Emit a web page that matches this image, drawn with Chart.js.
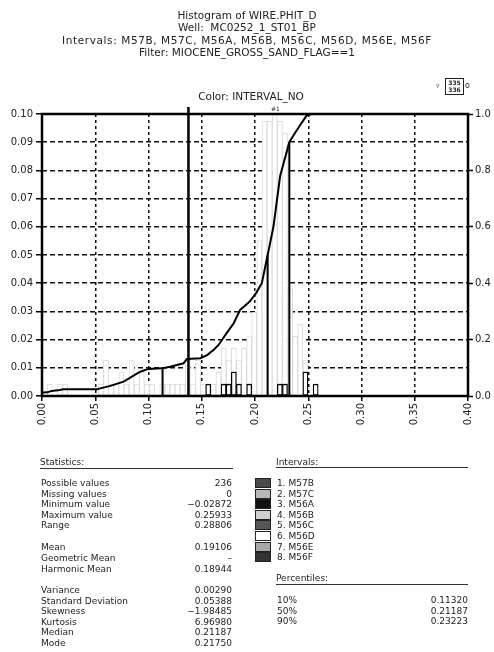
<!DOCTYPE html>
<html>
<head>
<meta charset="utf-8">
<script src="https://cdn.jsdelivr.net/npm/chart.js@4.4.0/dist/chart.umd.min.js"></script>
<style>
  body { margin: 0; background: #fff; font-family: "DejaVu Sans", sans-serif; color: #222; }
  #wrap { position: relative; width: 494px; height: 652px; overflow: hidden; }
  #chart { position: absolute; left: 0; top: 0; }
  .t { position: absolute; white-space: nowrap; font-size: 9px; line-height: 10px; }
  .c { left: 0; width: 494px; text-align: center; font-size: 10.5px; line-height: 12px; }
  .r { text-align: right; }
  .rule { position: absolute; height: 0; border-top: 1.5px solid #333; }
  .sw { position: absolute; left: 255px; width: 16px; height: 10px; border: 1px solid #222; box-sizing: border-box; }
</style>
</head>
<body>
<div id="wrap">
  <canvas id="chart" width="494" height="652"></canvas>

  <div class="t c" style="top:9px">Histogram of WIRE.PHIT_D</div>
  <div class="t c" style="top:21px">Well:&nbsp; MC0252_1_ST01_BP</div>
  <div class="t c" style="top:34px; letter-spacing:0.6px">Intervals: M57B, M57C, M56A, M56B, M56C, M56D, M56E, M56F</div>
  <div class="t c" style="top:46px">Filter: MIOCENE_GROSS_SAND_FLAG==1</div>
  <div class="t c" style="top:90px; left:4px">Color: INTERVAL_NO</div>

  <div class="t" style="left:436px; top:81px; font-size:7px">&#9663;</div>
  <div class="t" style="left:445px; top:78px; width:17px; height:15px; border:1px solid #222; font-size:6px; line-height:7px; text-align:center; font-weight:bold">335<br>336</div>
  <div class="t" style="left:465px; top:81px; font-size:8px">o</div>
  <div class="t" style="left:271px; top:104px; font-size:6px">#1</div>

  <div id="stats"></div>
</div>

<script>
// bin centres of the 60-bin histogram (only bins inside the 0.00 - 0.40 window)
const binCenters = [
  0.00249, 0.00729, 0.01209, 0.01689, 0.02169, 0.02649, 0.03129, 0.03609, 0.04089, 0.04570,
  0.05050, 0.05530, 0.06010, 0.06490, 0.06970, 0.07450, 0.07930, 0.08410, 0.08890, 0.09371,
  0.09851, 0.10331, 0.10811, 0.11291, 0.11771, 0.12251, 0.12731, 0.13211, 0.13691, 0.14172,
  0.14652, 0.15132, 0.15612, 0.16092, 0.16572, 0.17052, 0.17532, 0.18012, 0.18492, 0.18973,
  0.19453, 0.19933, 0.20413, 0.20893, 0.21373, 0.21853, 0.22333, 0.22813, 0.23293, 0.23774,
  0.24254, 0.24734, 0.25214, 0.25694
];
// frequency of the pale-outlined intervals (stacked on top)
const paleFreq = [
  0, 0.0042, 0, 0.0042, 0.0042, 0, 0, 0, 0, 0,
  0, 0.0042, 0.0127, 0.0042, 0.0042, 0.0085, 0.0042, 0.0127, 0.0042, 0.0085,
  0.0042, 0.0042, 0, 0.0042, 0.0042, 0.0042, 0.0042, 0.0042, 0.0127, 0.0042,
  0.0127, 0.0042, 0, 0.0042, 0.0085, 0.0127, 0.0085, 0.0085, 0.0085, 0.0169,
  0.0169, 0.0297, 0.0551, 0.0975, 0.0975, 0.1441, 0.0932, 0.0890, 0.0381, 0.0212,
  0.0254, 0.0042, 0, 0
];
// frequency of the black-outlined interval (bottom of the stack)
const darkFreq = [
  0, 0, 0, 0, 0, 0, 0, 0, 0, 0,
  0, 0, 0, 0, 0, 0, 0, 0, 0, 0,
  0, 0, 0, 0, 0, 0, 0, 0, 0, 0,
  0, 0, 0.0042, 0, 0, 0.0042, 0.0042, 0.0085, 0.0042, 0,
  0.0042, 0, 0, 0, 0, 0, 0.0042, 0.0042, 0, 0,
  0, 0.0085, 0, 0.0042
];

// cumulative curve (right axis)
const cdfPhi = [
  0.000, 0.005, 0.009, 0.015, 0.020, 0.052, 0.0547, 0.0641, 0.0700, 0.0766,
  0.0829, 0.0922, 0.0998, 0.1126, 0.1204, 0.1329, 0.1360, 0.1486, 0.1550, 0.1610,
  0.1660, 0.1700, 0.1750, 0.1800, 0.1860, 0.1900, 0.1950, 0.2010, 0.2064, 0.2119,
  0.2173, 0.2236, 0.2322, 0.2380, 0.2423, 0.2486, 0.2533, 0.2593
];
const cdfFrac = [
  0.012, 0.013, 0.018, 0.020, 0.024, 0.024, 0.027, 0.036, 0.043, 0.051,
  0.065, 0.086, 0.096, 0.098, 0.104, 0.116, 0.131, 0.134, 0.145, 0.163,
  0.182, 0.205, 0.232, 0.258, 0.305, 0.318, 0.335, 0.365, 0.400, 0.500,
  0.600, 0.780, 0.900, 0.935, 0.960, 0.995, 1.000, 1.000
];

const percentileLevels = [0.10, 0.50, 0.90];
const percentileValues = [0.11320, 0.21187, 0.23223];
const percentileNames = ["10%", "50%", "90%"];
const cutoffPhi = 0.1375;

const xTickValues = [0, 0.05, 0.10, 0.15, 0.20, 0.25, 0.30, 0.35, 0.40];
const yTickValues = [0, 0.01, 0.02, 0.03, 0.04, 0.05, 0.06, 0.07, 0.08, 0.09, 0.10];
const y2TickValues = [0, 0.2, 0.4, 0.6, 0.8, 1.0];

const statNames = ["Possible values", "Missing values", "Minimum value", "Maximum value", "Range",
  "Mean", "Geometric Mean", "Harmonic Mean",
  "Variance", "Standard Deviation", "Skewness", "Kurtosis", "Median", "Mode"];
const statValues = ["236", "0", "\u22120.02872", "0.25933", "0.28806",
  "0.19106", "\u2013", "0.18944",
  "0.00290", "0.05388", "\u22121.98485", "6.96980", "0.21187", "0.21750"];
const statRows = [483, 493.5, 504, 514.5, 525, 547, 558, 568.5, 590, 600.5, 611, 621.5, 632, 642.5];

const intervalNames = ["1. M57B", "2. M57C", "3. M56A", "4. M56B", "5. M56C", "6. M56D", "7. M56E", "8. M56F"];
const intervalSwatch = ["#4a4a4a", "#b8b8b8", "#111", "#d0d0d0", "#555", "#fff", "#a8a8a8", "#333"];

// ---- text panels below the plot
const stats = document.getElementById("stats");
function addText(txt, left, top, cls, extra) {
  const d = document.createElement("div");
  d.className = "t " + (cls || "");
  d.textContent = txt;
  d.style.left = left + "px";
  d.style.top = top + "px";
  if (extra) Object.assign(d.style, extra);
  stats.appendChild(d);
}
function addRule(left, top, width) {
  const d = document.createElement("div");
  d.className = "rule";
  d.style.left = left + "px";
  d.style.top = top + "px";
  d.style.width = width + "px";
  stats.appendChild(d);
}

addText("Statistics:", 40, 457);
addRule(40, 468, 193);
statNames.forEach((n, i) => {
  addText(n, 41, statRows[i] - 5);
  addText(statValues[i], 132, statRows[i] - 5, "r", { width: "100px" });
});

addText("Intervals:", 276, 457);
addRule(276, 467, 192);
intervalNames.forEach((n, i) => {
  const top = 478 + i * 10.6;
  const s = document.createElement("div");
  s.className = "sw";
  s.style.top = top + "px";
  s.style.background = intervalSwatch[i];
  stats.appendChild(s);
  addText(n, 277, top);
});

addText("Percentiles:", 276, 573);
addRule(276, 584, 192);
percentileNames.forEach((n, i) => {
  const top = 595 + i * 10.5;
  addText(n, 277, top);
  addText(percentileValues[i].toFixed(5), 368, top, "r", { width: "100px" });
});

// ---- chart
const framePlugin = {
  id: "frame",
  afterDatasetsDraw(chart) {
    const { ctx, chartArea: a } = chart;
    ctx.save();
    ctx.lineWidth = 2.5;
    ctx.strokeStyle = "#000";
    ctx.strokeRect(a.left, a.top, a.right - a.left, a.bottom - a.top);
    ctx.restore();
  },
};

const tickFont = { family: "DejaVu Sans", size: 10 };

new Chart(document.getElementById("chart"), {
  type: "bar",
  data: {
    datasets: [
      {
        type: "line",
        label: "Cumulative",
        data: cdfPhi.map((x, i) => ({ x, y: cdfFrac[i] })),
        yAxisID: "y2",
        borderColor: "#000",
        borderWidth: 2,
        pointRadius: 0,
        tension: 0,
        order: 0,
      },
      ...percentileValues.map((p, i) => ({
        type: "line",
        label: percentileNames[i],
        data: [{ x: p, y: 0 }, { x: p, y: percentileLevels[i] }],
        yAxisID: "y2",
        borderColor: "#000",
        borderWidth: 2,
        pointRadius: 0,
        order: 0,
      })),
      {
        type: "line",
        label: "Cutoff",
        data: [{ x: cutoffPhi, y: 0 }, { x: cutoffPhi, y: 1.025 }],
        yAxisID: "y2",
        borderColor: "#000",
        borderWidth: 2.5,
        pointRadius: 0,
        clip: false,
        order: 0,
      },
      {
        label: "M56D",
        data: binCenters.map((x, i) => ({ x, y: darkFreq[i] })),
        yAxisID: "y",
        backgroundColor: "#fff",
        borderColor: "#000",
        borderWidth: 1.3,
        borderSkipped: false,
        barPercentage: 1,
        categoryPercentage: 1,
        order: 1,
      },
      {
        label: "Other intervals",
        data: binCenters.map((x, i) => ({ x, y: paleFreq[i] })),
        yAxisID: "y",
        backgroundColor: "#fff",
        borderColor: "#dadada",
        borderWidth: 1,
        borderSkipped: false,
        barPercentage: 1,
        categoryPercentage: 1,
        order: 2,
      },
    ],
  },
  options: {
    responsive: false,
    devicePixelRatio: 1,
    animation: false,
    layout: { padding: { left: 0, right: 0, top: 114, bottom: 212 } },
    plugins: { legend: { display: false }, tooltip: { enabled: false } },
    scales: {
      x: {
        type: "linear",
        min: 0,
        max: 0.4,
        offset: false,
        stacked: true,
        afterBuildTicks: (s) => { s.ticks = xTickValues.map((v) => ({ value: v })); },
        afterFit: (s) => { s.height = 44; },
        grid: { offset: false, color: "#111", lineWidth: 1.5, tickLength: 5, tickWidth: 1.5, tickColor: "#000" },
        border: { display: false, dash: [3, 3] },
        ticks: {
          minRotation: 90,
          maxRotation: 90,
          padding: 2,
          color: "#222",
          font: tickFont,
          callback: (v) => v.toFixed(2),
        },
      },
      y: {
        position: "left",
        min: 0,
        max: 0.1,
        stacked: true,
        afterBuildTicks: (s) => { s.ticks = yTickValues.map((v) => ({ value: v })); },
        afterFit: (s) => { s.width = 42; },
        grid: { color: "#111", lineWidth: 1.5, tickLength: 6, tickWidth: 1.5, tickColor: "#000" },
        border: { display: false, dash: [5, 3] },
        ticks: { padding: 3, color: "#222", font: tickFont, callback: (v) => v.toFixed(2) },
      },
      y2: {
        position: "right",
        min: 0,
        max: 1,
        afterBuildTicks: (s) => { s.ticks = y2TickValues.map((v) => ({ value: v })); },
        afterFit: (s) => { s.width = 26; },
        grid: { drawOnChartArea: false, tickLength: 5, tickWidth: 1.5, tickColor: "#000" },
        border: { display: false },
        ticks: { padding: 2, color: "#222", font: tickFont, callback: (v) => v.toFixed(1) },
      },
    },
  },
  plugins: [framePlugin],
});
</script>
</body>
</html>
